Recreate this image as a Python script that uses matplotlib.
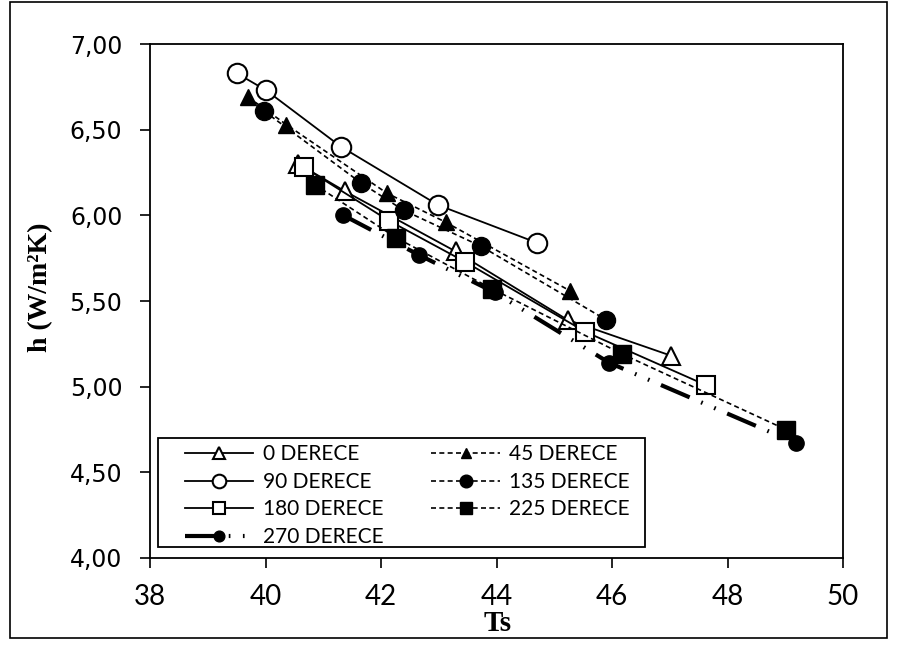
import matplotlib
matplotlib.use('Agg')
import matplotlib.pyplot as plt
from matplotlib.patches import Rectangle
from matplotlib.ticker import FuncFormatter

# data
ts_0 = [40.57, 41.38, 43.29, 45.23, 47.03]
h_0 = [6.30, 6.14, 5.79, 5.39, 5.18]
ts_45 = [39.70, 40.36, 42.10, 43.12, 45.27]
h_45 = [6.69, 6.53, 6.13, 5.96, 5.56]
ts_90 = [39.50, 40.01, 41.31, 42.99, 44.70]
h_90 = [6.83, 6.73, 6.40, 6.06, 5.84]
ts_135 = [39.97, 41.65, 42.39, 43.73, 45.90]
h_135 = [6.61, 6.19, 6.03, 5.82, 5.39]
ts_180 = [40.67, 42.13, 43.45, 45.54, 47.62]
h_180 = [6.28, 5.97, 5.73, 5.32, 5.01]
ts_225 = [40.85, 42.26, 43.93, 46.18, 49.01]
h_225 = [6.18, 5.87, 5.57, 5.19, 4.75]
ts_270 = [41.35, 42.65, 43.97, 45.95, 49.19]
h_270 = [6.00, 5.77, 5.55, 5.14, 4.67]

x_ticks = [38, 40, 42, 44, 46, 48, 50]
y_ticks = [4.0, 4.5, 5.0, 5.5, 6.0, 6.5, 7.0]

fig = plt.figure(figsize=(8.99, 6.48), dpi=100)
ax = fig.add_axes([0.1669, 0.1389, 0.9377 - 0.1669, 0.932 - 0.1389])

short_dash = (0, (3, 2))
ax.plot(ts_0, h_0, color='black', lw=1.3, marker='^', ms=13, mfc='white', mew=1.5, label='0 DERECE')
ax.plot(ts_90, h_90, color='black', lw=1.3, marker='o', ms=14, mfc='white', mew=1.5, label='90 DERECE')
ax.plot(ts_180, h_180, color='black', lw=1.3, marker='s', ms=13, mfc='white', mew=1.5, label='180 DERECE')
ax.plot(ts_270, h_270, color='black', lw=3.0, ls=(0, (7.5, 3, 0.4, 3, 0.4, 3)), marker='o', ms=11,
        mfc='black', label='270 DERECE')
ax.plot(ts_45, h_45, color='black', lw=1.2, ls=short_dash, marker='^', ms=11, mfc='black', label='45 DERECE')
ax.plot(ts_135, h_135, color='black', lw=1.2, ls=short_dash, marker='o', ms=13, mfc='black', label='135 DERECE')
ax.plot(ts_225, h_225, color='black', lw=1.2, ls=short_dash, marker='s', ms=13, mfc='black', label='225 DERECE')

ax.set_xlim(38, 50)
ax.set_ylim(4.0, 7.0)
ax.set_xticks(x_ticks)
ax.set_yticks(y_ticks)
ax.yaxis.set_major_formatter(FuncFormatter(lambda v, p: ('%.2f' % v).replace('.', ',')))
ax.tick_params(direction='out', length=7, width=1.2, labelsize=17, top=False, right=False)
ax.tick_params(axis='y', pad=13)
ax.tick_params(axis='x', pad=12, labelsize=20)
for lab in ax.get_xticklabels():
    lab.set_family('Lato')
for s in ax.spines.values():
    s.set_linewidth(1.3)

ax.set_xlabel('Ts', fontsize=21, fontweight='bold', family='Liberation Serif')
ax.set_ylabel('h (W/m²K)', fontsize=20, fontweight='bold', family='Liberation Serif')
ax.xaxis.set_label_coords(0.502, -0.101)
ax.yaxis.set_label_coords(-0.14, 0.527)

leg = ax.legend(loc='upper left', ncol=2, prop={'family': 'Lato', 'size': 15},
                frameon=False, handlelength=3.3, markerscale=0.7,
                columnspacing=2.3, labelspacing=0.36, borderpad=0,
                handletextpad=0.45, borderaxespad=0, bbox_to_anchor=(0.05, 0.221))
# legend box drawn separately (wide left margin like the original)
ax.add_patch(Rectangle((0.0115, 0.0214), 0.7027, 0.212, transform=ax.transAxes,
                       fill=False, edgecolor='black', lw=1.3, zorder=5))

# outer border like the original picture
fig.patches.append(Rectangle((0.011, 0.015), 0.976, 0.982, transform=fig.transFigure,
                             fill=False, edgecolor='black', lw=1.2))

fig.savefig('out.png', dpi=100)
